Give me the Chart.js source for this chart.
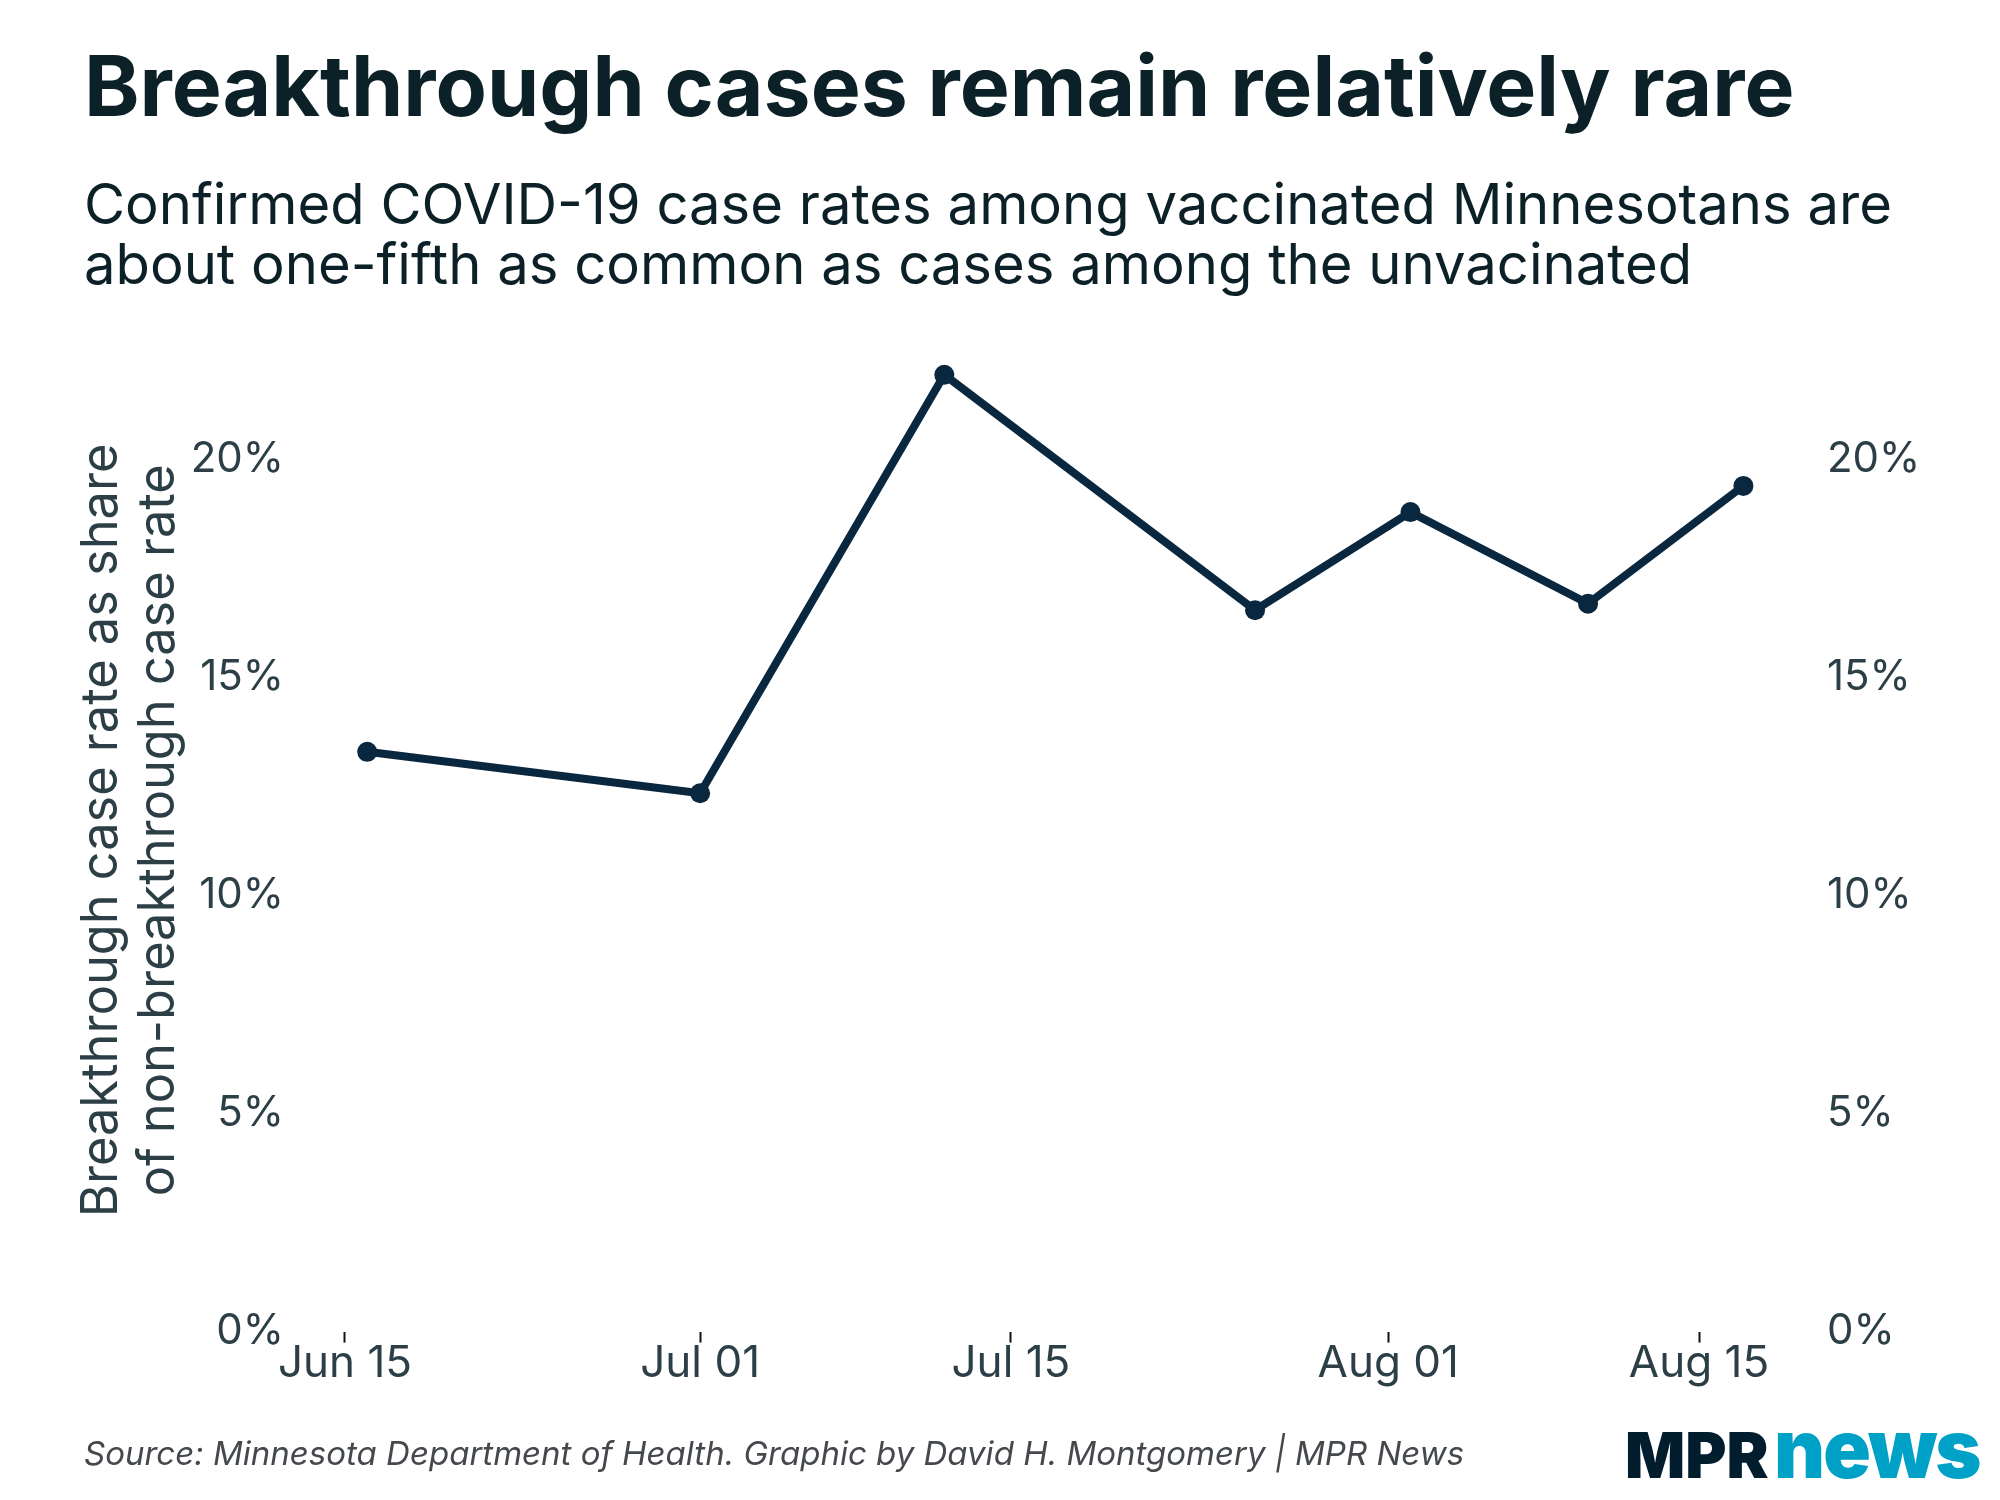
<!DOCTYPE html>
<html>
<head>
<meta charset="utf-8">
<script src="https://cdn.jsdelivr.net/npm/chart.js@4.4.1/dist/chart.umd.min.js"></script>
<style>
  html, body { margin: 0; padding: 0; background: #ffffff; }
  #wrap { position: relative; width: 2000px; height: 1500px; overflow: hidden; background: #fff; }
  #c { position: absolute; left: 0; top: 0; }
  .txt { position: absolute; white-space: nowrap; font-family: Inter, "Noto Sans", sans-serif; }
  #title { left: 84px; top: 44px; font-size: 84px; line-height: 84px; font-weight: 700; color: #0c2027; }
  #subtitle { left: 84px; top: 174px; font-size: 56.2px; line-height: 60px; font-weight: 400; color: #0c2027; }
  #source { left: 84px; top: 1437px; font-size: 33px; line-height: 33px; font-style: italic; color: #45484c; }
  #logo { left: 1625px; top: 1399px; height: 80px; display: flex; align-items: baseline; font-family: Inter, sans-serif; font-weight: 900; }
  #logo .mpr { color: #021d2e; font-size: 63px; letter-spacing: 0px; }
  #logo .news { color: #00a1c6; font-size: 82px; display: inline-block; transform-origin: left bottom; transform: scaleX(0.96); letter-spacing: -2px; margin-left: 5px; }
</style>
</head>
<body>
<div id="wrap">
  <canvas id="c" width="2000" height="1500"></canvas>
  <div class="txt" id="title">Breakthrough cases remain relatively rare</div>
  <div class="txt" id="subtitle">Confirmed COVID-19 case rates among vaccinated Minnesotans are<br>about one-fifth as common as cases among the unvacinated</div>
  <div class="txt" id="source">Source: Minnesota Department of Health. Graphic by David H. Montgomery | MPR News</div>
  <div class="txt" id="logo"><span class="mpr">MPR</span><span class="news">news</span></div>
</div>
<script>
// ---- data ----
const startDate = "2021-06-15";
const reportDates = ["2021-06-16", "2021-07-01", "2021-07-12", "2021-07-26", "2021-08-02", "2021-08-10", "2021-08-17"];
const breakthroughShare = [13.3, 12.35, 21.95, 16.55, 18.8, 16.7, 19.4];
const xTickDates = ["2021-06-15", "2021-07-01", "2021-07-15", "2021-08-01", "2021-08-15"];
const xTickLabels = ["Jun 15", "Jul 01", "Jul 15", "Aug 01", "Aug 15"];
const yTickValues = [0, 5, 10, 15, 20];
const yAxisTitle = ["Breakthrough case rate as share", "of non-breakthrough case rate"];

// day offsets from the start date
const dayOf = s => Math.round((Date.parse(s + "T00:00:00Z") - Date.parse(startDate + "T00:00:00Z")) / 86400000);
const points = reportDates.map((d, i) => ({ x: dayOf(d), y: breakthroughShare[i] }));
const xTickDays = xTickDates.map(dayOf);

const tickColor = "#2c3f47";
const tickFont = { family: "Inter, 'Noto Sans', sans-serif", size: 42 };

const yTicksCommon = {
  font: tickFont,
  color: tickColor,
  callback: v => v + "%"
};

new Chart(document.getElementById("c"), {
  type: "line",
  data: {
    datasets: [{
      data: points,
      borderColor: "#0a2740",
      backgroundColor: "#0a2740",
      borderWidth: 8,
      pointRadius: 10,
      pointBorderWidth: 0,
      pointBackgroundColor: "#0a2740",
      tension: 0,
      fill: false
    }]
  },
  options: {
    responsive: false,
    animation: false,
    devicePixelRatio: 1,
    layout: { padding: { top: 329, left: 0, right: 0, bottom: 0 } },
    plugins: { legend: { display: false }, tooltip: { enabled: false } },
    scales: {
      x: {
        type: "linear",
        min: -2.5,
        max: 66,
        afterBuildTicks: axis => { axis.ticks = xTickDays.map(v => ({ value: v })); },
        afterFit: s => { s.height = 168.4; },
        ticks: {
          autoSkip: false,
          maxRotation: 0,
          padding: -5,
          font: Object.assign({}, tickFont, { size: 44 }),
          color: tickColor,
          callback: (v, i) => xTickLabels[i]
        },
        grid: { display: true, drawOnChartArea: false, drawTicks: true, tickLength: 11, tickColor: "#111", tickWidth: 2 },
        border: { display: false }
      },
      y: {
        type: "linear",
        position: "left",
        min: 0,
        max: 23,
        afterBuildTicks: axis => { axis.ticks = yTickValues.map(v => ({ value: v })); },
        afterFit: s => { s.width = 289.5; },
        ticks: Object.assign({ padding: 5.5 }, yTicksCommon),
        grid: { display: false, drawTicks: false },
        border: { display: false },
        title: {
          display: true,
          text: yAxisTitle,
          color: tickColor,
          font: { family: "Inter, 'Noto Sans', sans-serif", size: 50.5, lineHeight: 1.13 },
          padding: { top: 73, bottom: 0 }
        }
      },
      y2: {
        type: "linear",
        position: "right",
        min: 0,
        max: 23,
        afterBuildTicks: axis => { axis.ticks = yTickValues.map(v => ({ value: v })); },
        afterFit: s => { s.width = 190; },
        ticks: Object.assign({ padding: 17 }, yTicksCommon),
        grid: { display: false, drawTicks: false },
        border: { display: false }
      }
    }
  }
});
</script>
</body>
</html>
